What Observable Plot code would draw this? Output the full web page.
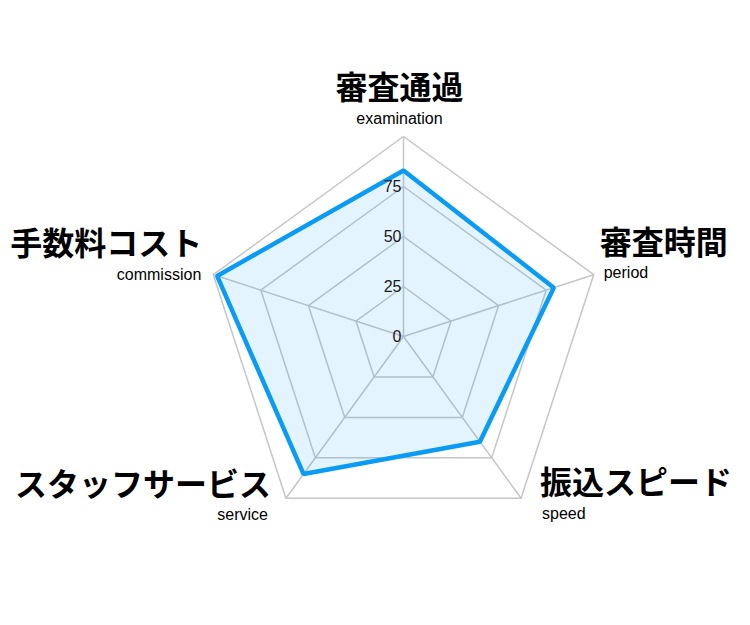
<!DOCTYPE html>
<html>
<head>
<meta charset="utf-8">
<script src="https://cdn.jsdelivr.net/npm/d3@7"></script>
<script src="https://cdn.jsdelivr.net/npm/@observablehq/plot@0.6"></script>
<style>
  html, body { margin: 0; padding: 0; background: #fff; }
  #chart svg { display: block; }
</style>
</head>
<body>
<div id="chart"></div>
<script>
// ---- data ----
const axesJa = ["審査通過", "審査時間", "振込スピード", "スタッフサービス", "手数料コスト"];
const axesEn = ["examination", "period", "speed", "service", "commission"];
const values = [83, 79, 65, 85, 98];
const ringLevels = [25, 50, 75, 100];
const tickLabels = [0, 25, 50, 75];

// ---- layout / style (not data) ----
const labelLayout = [
  {anchor: "middle", jaDx: -4,  jaDy: -48, enDx: -4,  enDy: -13},
  {anchor: "start",  jaDx: 6,   jaDy: -31, enDx: 10,  enDy: 3},
  {anchor: "start",  jaDx: 19,  jaDy: -15, enDx: 21,  enDy: 21},
  {anchor: "end",    jaDx: -15, jaDy: -13, enDx: -18, enDy: 22},
  {anchor: "end",    jaDx: -11, jaDy: -30, enDx: -12, enDy: 5}
];
const jaFont = "'Noto Sans CJK JP', 'Noto Sans CJK SC', sans-serif";
const enFont = "'Liberation Sans', Arial, Helvetica, sans-serif";

const n = axesEn.length;
const angle = i => -Math.PI / 2 + (2 * Math.PI * i) / n;
const px = (i, r) => r * Math.cos(angle(i));
const py = (i, r) => r * Math.sin(angle(i));

const ringPoints = ringLevels.flatMap(r => d3.range(n).map(i => ({ring: r, x: px(i, r), y: py(i, r)})));
const spokes = d3.range(n).map(i => ({x2: px(i, 100), y2: py(i, 100)}));
const shape = values.map((v, i) => ({x: px(i, v), y: py(i, v)}));

const marks = [
  Plot.line(ringPoints, {x: "x", y: "y", z: "ring", curve: "linear-closed", stroke: "#c6c6c6", strokeWidth: 1.5}),
  Plot.link(spokes, {x1: () => 0, y1: () => 0, x2: "x2", y2: "y2", stroke: "#c6c6c6", strokeWidth: 1.5}),
  Plot.line(shape, {x: "x", y: "y", curve: "linear-closed", fill: "#0a9bf5", fillOpacity: 0.11, stroke: "none"}),
  Plot.line(shape, {x: "x", y: "y", curve: "linear-closed", stroke: "#0a9bf5", strokeWidth: 4.5, strokeLinejoin: "miter"}),
  Plot.text(tickLabels, {x: () => 0, y: d => -d, text: d => String(d), textAnchor: "end", lineAnchor: "middle", dx: -2, fontSize: 16, fill: "#1a1a1a", fontFamily: enFont})
];

d3.range(n).forEach(i => {
  const L = labelLayout[i];
  marks.push(Plot.text([i], {
    x: j => px(j, 100), y: j => py(j, 100), text: j => axesJa[j],
    textAnchor: L.anchor, lineAnchor: "middle", dx: L.jaDx, dy: L.jaDy,
    fontSize: 32, fontWeight: "bold", fill: "#000", fontFamily: jaFont
  }));
  marks.push(Plot.text([i], {
    x: j => px(j, 100), y: j => py(j, 100), text: j => axesEn[j],
    textAnchor: L.anchor, lineAnchor: "bottom", dx: L.enDx, dy: L.enDy,
    fontSize: 16, fill: "#000", fontFamily: enFont
  }));
});

const W = 750, H = 625, cx = 403, cy = 336, unit = 2;
const chart = Plot.plot({
  width: W,
  height: H,
  margin: 0,
  style: {background: "#fff", overflow: "visible"},
  x: {type: "linear", domain: [-cx / unit, (W - cx) / unit], range: [0, W], axis: null},
  y: {type: "linear", domain: [-cy / unit, (H - cy) / unit], range: [0, H], axis: null},
  marks
});
document.getElementById("chart").appendChild(chart);
</script>
</body>
</html>
